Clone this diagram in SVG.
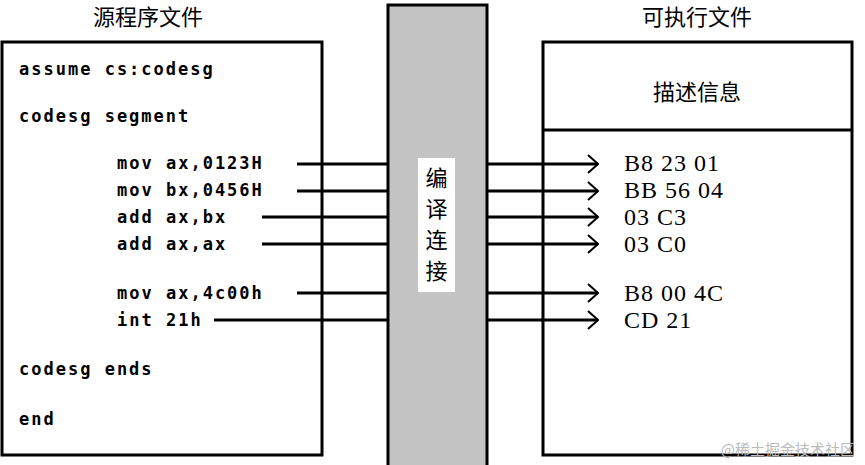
<svg xmlns="http://www.w3.org/2000/svg" width="865" height="465" viewBox="0 0 865 465">
<style>
.box{fill:#fff;stroke:#000;stroke-width:3}
.code{font-family:"DejaVu Sans Mono",monospace;font-weight:bold;font-size:17px;letter-spacing:2px}
.hex{font-family:"Liberation Serif",serif;font-size:24px;letter-spacing:1px}
.cn{font-family:"Noto Sans CJK SC",sans-serif;font-size:22px}
.ln{stroke:#000;stroke-width:3;fill:none}
</style>
<defs><marker id="ah" viewBox="0 0 12 20" refX="11" refY="10" markerWidth="12" markerHeight="20" markerUnits="userSpaceOnUse" orient="auto"><path d="M1,1 L11,10 L1,19" fill="none" stroke="#000" stroke-width="2"/></marker></defs>
<rect width="865" height="465" fill="#fff"/>
<g id="band"><rect x="388" y="5" width="99" height="462" fill="#c4c4c4" stroke="#000" stroke-width="3"/>
<rect x="418" y="158" width="37" height="134" fill="#fff"/>
<text class="cn" x="436.5" y="186" text-anchor="middle">编</text>
<text class="cn" x="436.5" y="217" text-anchor="middle">译</text>
<text class="cn" x="436.5" y="248" text-anchor="middle">连</text>
<text class="cn" x="436.5" y="279" text-anchor="middle">接</text></g>
<g id="src"><text class="cn" x="148" y="25" text-anchor="middle">源程序文件</text>
<rect class="box" x="2" y="42" width="320" height="413"/>
<text class="code" x="19" y="75">assume cs:codesg</text>
<text class="code" x="19" y="122">codesg segment</text>
<text class="code" x="117" y="169">mov ax,0123H</text>
<text class="code" x="117" y="196">mov bx,0456H</text>
<text class="code" x="117" y="223">add ax,bx</text>
<text class="code" x="117" y="250">add ax,ax</text>
<text class="code" x="117" y="299">mov ax,4c00h</text>
<text class="code" x="117" y="326">int 21h</text>
<text class="code" x="19" y="375">codesg ends</text>
<text class="code" x="19" y="425">end</text></g>
<g id="exe"><text class="cn" x="697" y="25" text-anchor="middle">可执行文件</text>
<rect class="box" x="543" y="42" width="309" height="413"/>
<line class="ln" x1="543" y1="130" x2="852" y2="130"/>
<text class="cn" x="697" y="100" text-anchor="middle">描述信息</text>
<text class="hex" x="624" y="171">B8 23 01</text>
<text class="hex" x="624" y="198">BB 56 04</text>
<text class="hex" x="624" y="225">03 C3</text>
<text class="hex" x="624" y="252">03 C0</text>
<text class="hex" x="624" y="301">B8 00 4C</text>
<text class="hex" x="624" y="328">CD 21</text></g>
<g id="connectors">
<path class="ln" d="M297,164H388 M297,191H388 M262,217H388 M262,244H388 M297,293H388 M214,320H388"/>
<g marker-end="url(#ah)"><path class="ln" d="M487,164H598"/><path class="ln" d="M487,191H598"/><path class="ln" d="M487,217H598"/><path class="ln" d="M487,244H598"/><path class="ln" d="M487,293H598"/><path class="ln" d="M487,320H598"/></g>
</g>
<text x="855" y="455" text-anchor="end" font-family="Noto Sans CJK SC,sans-serif" font-size="15" fill="#bbb">@稀土掘金技术社区</text>
</svg>
